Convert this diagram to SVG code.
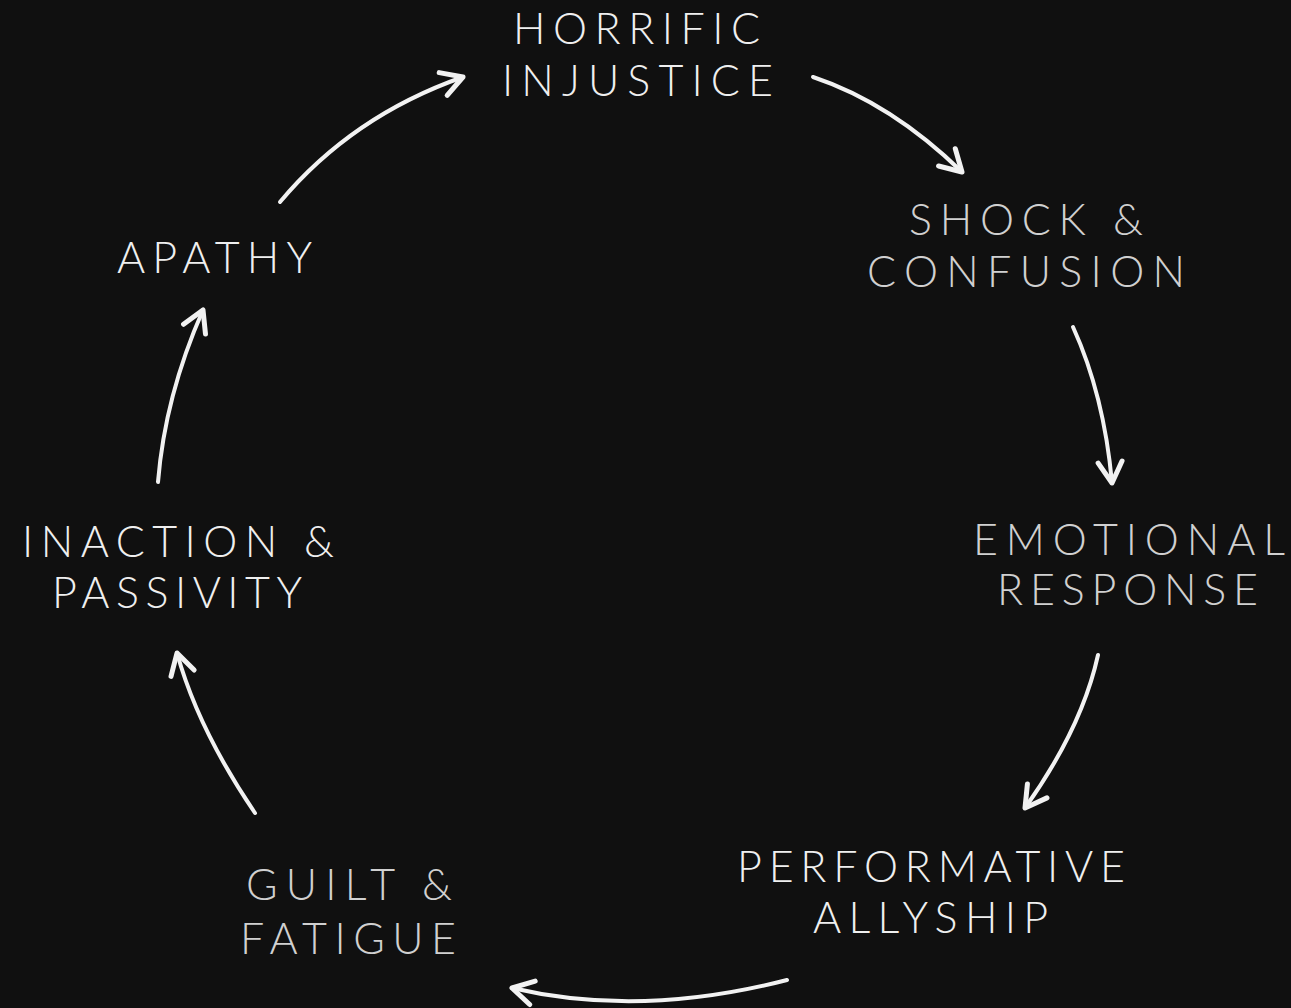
<svg xmlns="http://www.w3.org/2000/svg" width="1291" height="1008" viewBox="0 0 1291 1008">
<style>
  .lbl { font-family: "Lato", "Liberation Sans", sans-serif; font-weight: 300; font-size: 43px; fill: #efefef; }
  .dim { fill: #d0d0d0; }
  .arc { fill: none; stroke: #f2f2f2; stroke-width: 4; stroke-linecap: round; }
</style>
<defs>
  <marker id="chev" markerUnits="userSpaceOnUse" markerWidth="40" markerHeight="40" refX="0" refY="0" viewBox="-30 -20 40 40" orient="auto" overflow="visible">
    <path d="M -21 -12 L 0 0 L -21 12" fill="none" stroke="#f2f2f2" stroke-width="5" stroke-linecap="round" stroke-linejoin="round"/>
  </marker>
</defs>
<rect x="0" y="0" width="1291" height="1008" fill="#101010"/>

<g id="connectors">
  <path class="arc" marker-end="url(#chev)" d="M 280 202 Q 352 116 463 77"/>
  <path class="arc" marker-end="url(#chev)" d="M 813 77 Q 891 103 962 172"/>
  <path class="arc" marker-end="url(#chev)" d="M 1073 327 Q 1104 395 1112 483"/>
  <path class="arc" marker-end="url(#chev)" d="M 1098 655 Q 1082 728 1025 808"/>
  <path class="arc" marker-end="url(#chev)" d="M 787 980 Q 640 1018 512 988"/>
  <path class="arc" marker-end="url(#chev)" d="M 255 813 Q 198 729 177 653"/>
  <path class="arc" marker-end="url(#chev)" d="M 158 482 Q 165 396 203 310"/>
</g>

<g id="node-horrific-injustice">
  <text class="lbl" x="513" y="44" textLength="247" lengthAdjust="spacing">HORRIFIC</text>
  <text class="lbl" x="502" y="96" textLength="271" lengthAdjust="spacing">INJUSTICE</text>
</g>
<g id="node-shock-confusion">
  <text class="lbl dim" x="909" y="235" textLength="234" lengthAdjust="spacing">SHOCK &amp;</text>
  <text class="lbl dim" x="867" y="287" textLength="318" lengthAdjust="spacing">CONFUSION</text>
</g>
<g id="node-emotional-response">
  <text class="lbl dim" x="973" y="555" textLength="312" lengthAdjust="spacing">EMOTIONAL</text>
  <text class="lbl dim" x="997" y="605" textLength="261" lengthAdjust="spacing">RESPONSE</text>
</g>
<g id="node-performative-allyship">
  <text class="lbl" x="737" y="882" textLength="388" lengthAdjust="spacing">PERFORMATIVE</text>
  <text class="lbl" x="813" y="933" textLength="235" lengthAdjust="spacing">ALLYSHIP</text>
</g>
<g id="node-guilt-fatigue">
  <text class="lbl dim" x="246" y="900" textLength="206" lengthAdjust="spacing">GUILT &amp;</text>
  <text class="lbl dim" x="240" y="954" textLength="216" lengthAdjust="spacing">FATIGUE</text>
</g>
<g id="node-inaction-passivity">
  <text class="lbl" x="22" y="557" textLength="312" lengthAdjust="spacing">INACTION &amp;</text>
  <text class="lbl" x="52" y="608" textLength="250" lengthAdjust="spacing">PASSIVITY</text>
</g>
<g id="node-apathy">
  <text class="lbl" x="117" y="273" textLength="195" lengthAdjust="spacing">APATHY</text>
</g>
</svg>
